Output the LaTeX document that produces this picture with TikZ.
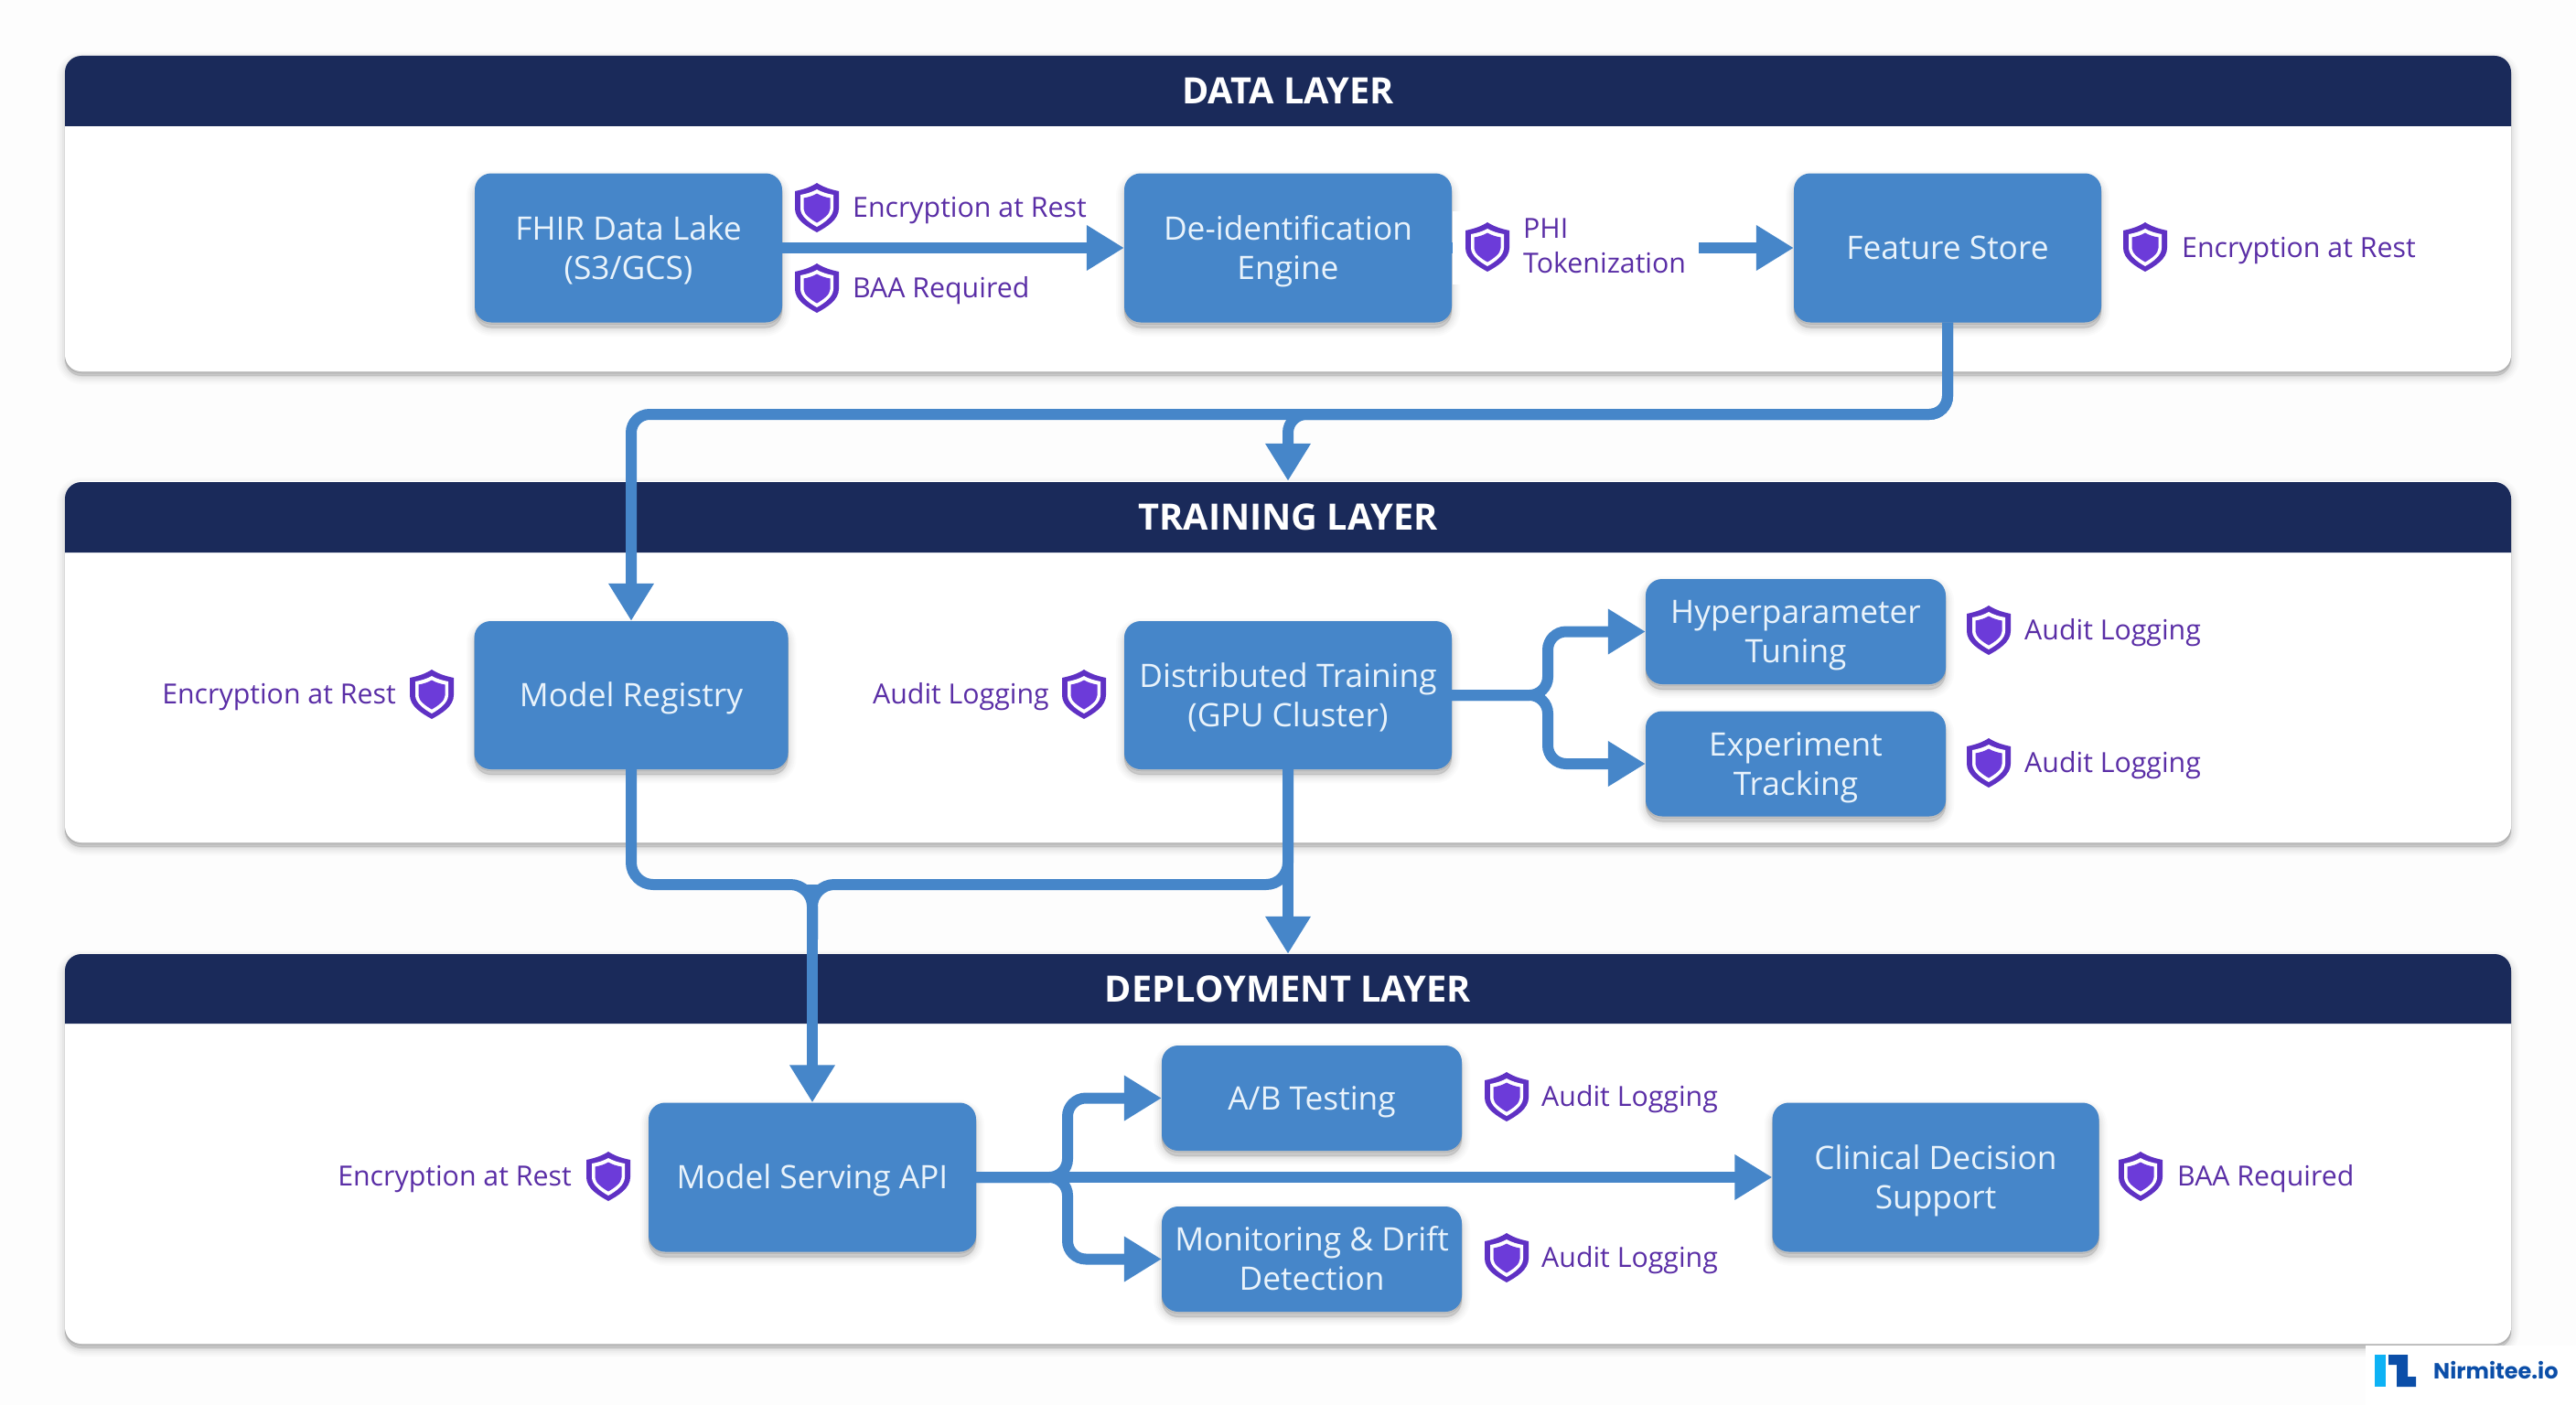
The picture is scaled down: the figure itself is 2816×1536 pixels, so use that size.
\documentclass[tikz,border=0pt]{standalone}
\usepackage{fontspec}
\setmainfont{Open Sans}
\newfontfamily\logofont{Poppins}
\usetikzlibrary{arrows.meta,calc}
\definecolor{pagebg}{HTML}{FDFDFD}
\definecolor{navy}{HTML}{1A2A5A}
\definecolor{flowblue}{HTML}{4686C9}
\definecolor{boxtext}{HTML}{E9F3FB}
\definecolor{shieldc}{HTML}{6C3BD9}
\definecolor{shieldedge}{HTML}{5F31C4}
\definecolor{labelc}{HTML}{5A2EA6}
\definecolor{logodark}{HTML}{0B4EA8}
\definecolor{logolight}{HTML}{0DB2F5}
\tikzset{
  softshadow/.style={
    preaction={draw=black,fill=black,opacity=.014,line width=18pt,transform canvas={yshift=-#1}},
    preaction={draw=black,fill=black,opacity=.018,line width=14pt,transform canvas={yshift=-#1}},
    preaction={draw=black,fill=black,opacity=.024,line width=10pt,transform canvas={yshift=-#1}},
    preaction={draw=black,fill=black,opacity=.03,line width=6pt,transform canvas={yshift=-#1}},
    preaction={draw=black,fill=black,opacity=.04,line width=2pt,transform canvas={yshift=-#1}},
    preaction={draw=black,fill=black,opacity=.09,line width=.5pt,transform canvas={yshift=-2pt}}},
  panel/.style={rectangle,rounded corners=18pt,fill=white,inner sep=0pt,softshadow=5pt},
  hdrtext/.style={text=white,inner sep=0pt,font=\fontsize{39.7}{46}\selectfont\bfseries},
  proc/.style={rectangle,rounded corners=18pt,fill=flowblue,inner sep=0pt,align=center,
    text=boxtext,font=\fontsize{35.3}{43}\selectfont,softshadow=6pt,
    execute at begin node={\rule{0pt}{34pt}},execute at end node={\rule[-9pt]{0pt}{0pt}}},
  twolines/.style={execute at begin node={\rule{0pt}{77pt}}},
  flow/.style={draw=flowblue,line width=12pt},
  tipflow/.style={flow,-{Triangle[length=41pt,width=47pt]}},
  lab/.style={text=labelc,inner sep=0pt,align=left,font=\fontsize{30.3}{38}\selectfont,
    execute at begin node={\rule{0pt}{30pt}},execute at end node={\rule[-8.4pt]{0pt}{0pt}}},
  shieldmark/.pic={
    \fill[shieldedge] (0,-27) .. controls (6,-23) and (14,-20) .. (24,-18) -- (24,1)
       .. controls (24,13) and (11,21) .. (0,27) .. controls (-11,21) and (-24,13) .. (-24,1)
       -- (-24,-18) .. controls (-14,-20) and (-6,-23) .. (0,-27) -- cycle;
    \fill[white] (0,-20) .. controls (5,-17) and (12,-15) .. (18,-14) -- (18,1)
       .. controls (18,9) and (9,16) .. (0,21) .. controls (-9,16) and (-18,9) .. (-18,1)
       -- (-18,-14) .. controls (-12,-15) and (-5,-17) .. (0,-20) -- cycle;
    \fill[shieldc] (0,-15.5) .. controls (4,-13) and (9,-11.5) .. (14.5,-10.5) -- (14.5,1)
       .. controls (14.5,7) and (7,12.5) .. (0,16.5) .. controls (-7,12.5) and (-14.5,7) .. (-14.5,1)
       -- (-14.5,-10.5) .. controls (-9,-11.5) and (-4,-13) .. (0,-15.5) -- cycle;
  }
}
\begin{document}
\begin{tikzpicture}[x=1pt,y=-1pt]
\useasboundingbox (0,0) rectangle (2816,1536);
\fill[pagebg] (0,0) rectangle (2816,1536);

% panels
\node[panel,minimum width=2674pt,minimum height=345pt] (datapanel) at (1408,233.5) {};
\node[panel,minimum width=2674pt,minimum height=395pt] (trainpanel) at (1408,723.5) {};
\node[panel,minimum width=2674pt,minimum height=426pt] (deploypanel) at (1408,1256) {};
\fill[navy] (71,138) [rounded corners=18pt] -- (71,61) -- (2745,61) [sharp corners] -- (2745,138) -- cycle;
\fill[navy] (71,604) [rounded corners=18pt] -- (71,527) -- (2745,527) [sharp corners] -- (2745,604) -- cycle;
\fill[navy] (71,1119) [rounded corners=18pt] -- (71,1043) -- (2745,1043) [sharp corners] -- (2745,1119) -- cycle;
\node[hdrtext] (datatitle) at (1408,99) {DATA LAYER};
\node[hdrtext] (traintitle) at (1408,565) {TRAINING LAYER};
\node[hdrtext] (deploytitle) at (1408,1081) {DEPLOYMENT LAYER};

% process boxes
\node[proc,twolines,minimum width=336pt,minimum height=163pt] (fhir) at (687,271) {FHIR Data Lake\\(S3/GCS)};
\node[proc,twolines,minimum width=358pt,minimum height=163pt] (deid) at (1408,271) {De-identification\\Engine};
\node[proc,minimum width=336pt,minimum height=163pt] (feature) at (2129,271) {Feature Store};
\node[proc,minimum width=343pt,minimum height=162pt] (registry) at (690,760) {Model Registry};
\node[proc,twolines,minimum width=358pt,minimum height=162pt] (dist) at (1408,760) {Distributed Training\\(GPU Cluster)};
\node[proc,twolines,minimum width=328pt,minimum height=115pt] (hyper) at (1963,690.5) {Hyperparameter\\Tuning};
\node[proc,twolines,minimum width=328pt,minimum height=115pt] (exper) at (1963,835) {Experiment\\Tracking};
\node[proc,minimum width=358pt,minimum height=163pt] (serving) at (888,1287) {Model Serving API};
\node[proc,minimum width=328pt,minimum height=115pt] (abtest) at (1434,1200.5) {A/B Testing};
\node[proc,twolines,minimum width=328pt,minimum height=115pt] (monitor) at (1434,1376.5) {Monitoring \& Drift\\Detection};
\node[proc,twolines,minimum width=357pt,minimum height=163pt] (clinical) at (2116,1287) {Clinical Decision\\Support};

% connectors
\coordinate (bxtrain) at (1692,760);
\coordinate (bxserve) at (1167,1287);
\coordinate (busy) at (1408,453);
\coordinate (mergey) at (888,967);
\draw[tipflow] (fhir.east) -- (deid.west);
\draw[tipflow] (deid.east) -- (feature.west);
\draw[tipflow,rounded corners=20pt] (feature.south) -- (feature.south |- busy) -- (registry.north |- busy) -- (registry.north);
\draw[tipflow,rounded corners=20pt] (feature.south) -- (feature.south |- busy) -- (busy) -- (trainpanel.north -| busy);
\draw[tipflow,rounded corners=20pt] (dist.east) -- (bxtrain) -- (bxtrain |- hyper.west) -- (hyper.west);
\draw[tipflow,rounded corners=20pt] (dist.east) -- (bxtrain) -- (bxtrain |- exper.west) -- (exper.west);
\draw[flow,rounded corners=24pt] (registry.south) -- (registry.south |- mergey) -- (mergey) -- ($(mergey)+(0,60)$);
\draw[flow,rounded corners=24pt] (dist.south) -- (dist.south |- mergey) -- (mergey) -- ($(mergey)+(0,60)$);
\draw[tipflow] (dist.south) -- (deploypanel.north -| dist.south);
\draw[tipflow] (mergey) -- (serving.north);
\draw[tipflow,rounded corners=20pt] (serving.east) -- (bxserve) -- (bxserve |- abtest.west) -- (abtest.west);
\draw[tipflow,rounded corners=20pt] (serving.east) -- (bxserve) -- (bxserve |- monitor.west) -- (monitor.west);
\draw[tipflow] (serving.east) -- (clinical.west);

% white clearing behind the PHI label
\node[fill=white,inner sep=0pt,minimum width=269pt,minimum height=80pt] (phimask) at (1722,271) {};

% compliance badges
\pic at (893,227) {shieldmark};
\node[lab,anchor=west] (l1) at (932,227) {Encryption at Rest};
\pic at (893,315) {shieldmark};
\node[lab,anchor=west] (l2) at (932,315) {BAA Required};
\pic at (1626,270) {shieldmark};
\node[lab,anchor=west] (l3) at (1665,273) {PHI\\Tokenization};
\pic at (2345,270) {shieldmark};
\node[lab,anchor=west] (l4) at (2385,271) {Encryption at Rest};
\pic at (472,759) {shieldmark};
\node[lab,anchor=east] (l5) at (433,759) {Encryption at Rest};
\pic at (1185,759) {shieldmark};
\node[lab,anchor=east] (l6) at (1147,759) {Audit Logging};
\pic at (2174,689) {shieldmark};
\node[lab,anchor=west] (l7) at (2213,689) {Audit Logging};
\pic at (2174,834) {shieldmark};
\node[lab,anchor=west] (l8) at (2213,834) {Audit Logging};
\pic at (665,1286) {shieldmark};
\node[lab,anchor=east] (l9) at (625,1286) {Encryption at Rest};
\pic at (1647,1199) {shieldmark};
\node[lab,anchor=west] (l10) at (1685,1199) {Audit Logging};
\pic at (1647,1375) {shieldmark};
\node[lab,anchor=west] (l11) at (1685,1375) {Audit Logging};
\pic at (2340,1286) {shieldmark};
\node[lab,anchor=west] (l12) at (2380,1286) {BAA Required};

% logo
\fill[white] (2586,1471) rectangle (2816,1536);
\fill[logolight] (2596,1481) rectangle (2608,1516);
\fill[logodark] (2611,1481) -- (2632,1481) -- (2632,1505) -- (2641,1505) -- (2641,1516) -- (2620,1516) -- (2620,1492) -- (2611,1492) -- cycle;
\node[anchor=west,inner sep=0pt,text=logodark,font=\logofont\fontsize{24}{28}\selectfont\bfseries] (logotext) at (2660,1498) {Nirmitee.io};
\end{tikzpicture}
\end{document}
